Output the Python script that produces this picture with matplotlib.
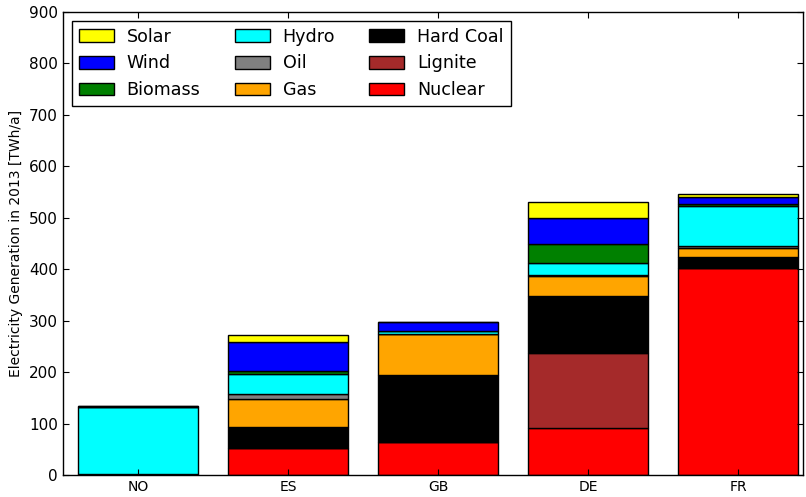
'''
Electricity generation mix by country, 2013
'''

import matplotlib as mp
mp.use('Agg')
import matplotlib.pyplot as plt
import numpy as np

countries = ['NO', 'ES', 'GB', 'DE', 'FR']

# TWh/a, stacked bottom to top
nuclear = [0, 52, 64, 91, 402]
lignite = [0, 0, 0, 146, 0]
hard_coal = [0, 42, 131, 112, 22]
gas = [3, 53, 79, 38, 17]
oil = [0, 10, 1, 2, 5]
hydro = [129, 40, 5, 24, 76]
biomass = [0, 6, 0, 36, 5]
wind = [2, 55, 17, 51, 14]
solar = [0, 14, 1, 31, 6]

sources = ['Nuclear', 'Lignite', 'Hard Coal', 'Gas', 'Oil',
           'Hydro', 'Biomass', 'Wind', 'Solar']
series = [nuclear, lignite, hard_coal, gas, oil, hydro, biomass, wind, solar]
colors = ['red', 'brown', 'black', 'orange', 'grey',
          'cyan', 'green', 'blue', 'yellow']


def plt_init():
    '''old-school matplotlib look'''
    plt.rcParams['font.family'] = ['DejaVu Sans']
    plt.rcParams['xtick.direction'] = 'in'
    plt.rcParams['ytick.direction'] = 'in'
    plt.rcParams['xtick.top'] = True
    plt.rcParams['ytick.right'] = True
    plt.rcParams['xtick.major.size'] = 4
    plt.rcParams['ytick.major.size'] = 4


plt_init()
fig = plt.figure(figsize=(8.06, 4.97), dpi=100)
ax = fig.add_axes([0.078, 0.044, 0.918, 0.932])

x = np.arange(len(countries))
bottom = np.zeros(len(countries))
handles = []
for name, vals, col in zip(sources, series, colors):
    b = ax.bar(x, vals, width=0.8, bottom=bottom, color=col,
               edgecolor='black', linewidth=1.0, label=name)
    handles.append(b)
    bottom += np.array(vals)

ax.set_xlim(-0.5, 4.43)
ax.set_ylim(0, 900)
ax.set_xticks(x)
ax.set_xticklabels(countries, fontsize=10)
ax.set_yticks(np.arange(0, 901, 100))
ax.tick_params(axis='y', labelsize=11)
ax.set_ylabel('Electricity Generation in 2013 [TWh/a]', fontsize=10)
for s in ax.spines.values():
    s.set_linewidth(1.0)

leg = ax.legend(handles[::-1], sources[::-1], ncol=3, loc='upper left',
                fontsize=12.6, fancybox=False, edgecolor='black', framealpha=1,
                handlelength=2.0, handleheight=0.75, columnspacing=1.95,
                handletextpad=0.75, labelspacing=0.5, borderaxespad=0.5)
leg.get_frame().set_linewidth(1.0)

plt.savefig('out.png', dpi=100)
